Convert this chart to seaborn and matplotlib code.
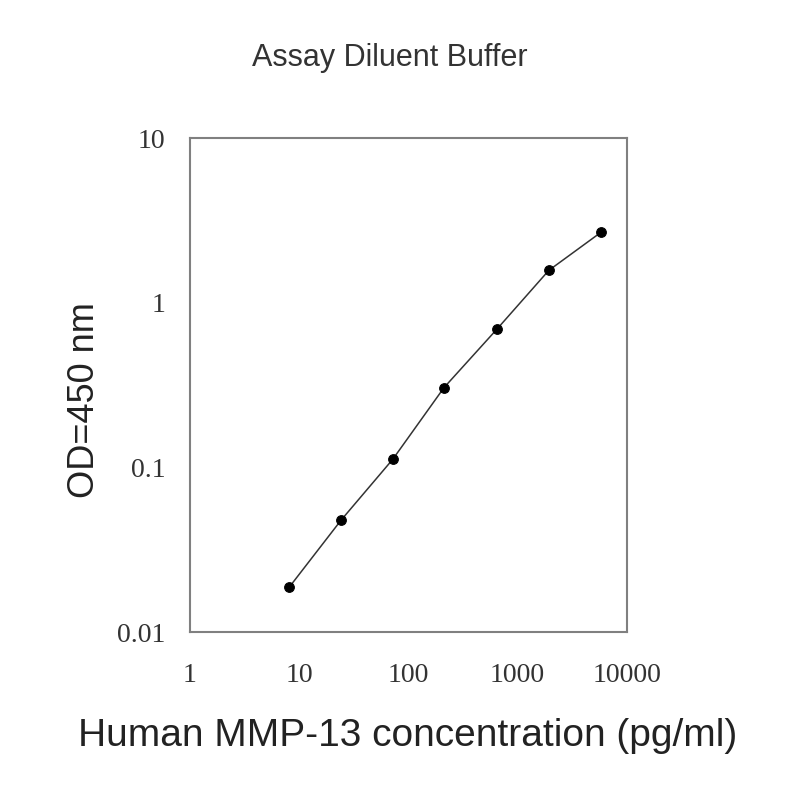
import pandas as pd
import matplotlib
matplotlib.use('Agg')
import matplotlib.pyplot as plt
import matplotlib.ticker as mticker
import seaborn as sns

# данные стандартной кривой
conc = [8.1, 24.2, 72, 212, 646, 1930, 5780]
od = [0.0187, 0.0478, 0.112, 0.305, 0.69, 1.57, 2.67]
x_ticks = [1, 10, 100, 1000, 10000]
y_ticks = [0.01, 0.1, 1, 10]

data = pd.DataFrame({'conc': conc, 'od': od})

sns.set_style('white')
plt.rcParams['font.family'] = ['Liberation Sans', 'DejaVu Sans']

fig = plt.figure(figsize=(8, 8), dpi=100)
ax = fig.add_axes([0.2375, 0.21, 0.546, 0.6175])
sns.lineplot(data=data, x='conc', y='od', ax=ax, color='#333333', linewidth=1.1,
             marker='o', markersize=7, markerfacecolor='black', markeredgecolor='black')
ax.set_xscale('log')
ax.set_yscale('log')
ax.set_xlim(1, 10000)
ax.set_ylim(0.01, 10)
ax.set_xticks(x_ticks)
ax.set_yticks(y_ticks)
ax.xaxis.set_major_formatter(mticker.FuncFormatter(lambda v, p: '%g' % v))
ax.yaxis.set_major_formatter(mticker.FuncFormatter(lambda v, p: '%g' % v))
ax.minorticks_off()
for s in ax.spines.values():
    s.set_color('#808080')
    s.set_linewidth(1.5)
ax.tick_params(axis='both', direction='inout', length=5, width=1.2, color='#808080',
               labelsize=20, labelcolor='#333333', pad=20)
ax.tick_params(axis='y', pad=15)
for lbl in ax.get_xticklabels() + ax.get_yticklabels():
    lbl.set_family('Liberation Serif')

ax.set_xlabel('')
ax.set_ylabel('')
fig.text(0.51, 0.08, 'Human MMP-13 concentration (pg/ml)', ha='center', va='center',
         fontsize=28, color='#222222')
fig.text(0.105, 0.5, 'OD=450 nm', ha='center', va='center', rotation=90,
         fontsize=26, color='#222222')
fig.text(0.4875, 0.928, 'Assay Diluent Buffer', ha='center', va='center', fontsize=22, color='#333333')

plt.savefig('out.png', dpi=100)
